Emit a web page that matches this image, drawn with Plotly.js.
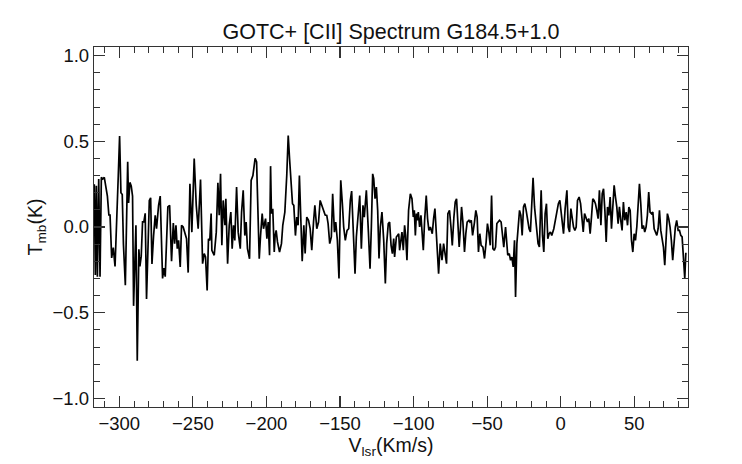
<!DOCTYPE html>
<html>
<head>
<meta charset="utf-8">
<script src="https://cdn.plot.ly/plotly-3.0.1.min.js"></script>
<style>html,body{margin:0;padding:0;background:#fff;}#chart{width:742px;height:464px;}</style>
</head>
<body>
<div id="chart"></div>
<script>
// Velocity (km/s) and main-beam temperature (K)
const velocity = [
-317.0,-316.3,-315.6,-314.9,-314.0,-313.1,-312.2,-311.3,-310.2,-309.2,
-308.1,-307.1,-306.3,-305.2,-304.1,-302.9,-301.5,-300.7,-299.8,-298.9,
-298.0,-297.2,-295.9,-294.3,-293.7,-292.8,-291.9,-291.0,-290.3,-288.7,
-287.8,-286.7,-286.0,-285.1,-284.2,-283.3,-282.4,-281.5,-280.6,-279.6,
-278.7,-277.8,-276.7,-275.6,-274.7,-273.3,-272.2,-270.6,-269.7,-268.8,
-267.0,-265.8,-264.5,-263.3,-262.4,-261.5,-260.6,-259.7,-258.6,-257.7,
-256.6,-255.2,-254.3,-253.2,-252.0,-250.7,-249.1,-247.7,-246.4,-244.8,
-243.4,-242.3,-241.4,-240.3,-239.4,-238.5,-237.6,
-237.1,-235.5,-234.1,-233.0,-232.1,-231.2,-230.3,-229.4,-228.2,-227.6,
-226.4,-225.3,-224.2,-223.3,-222.4,-221.5,-220.3,-219.2,-217.8,-216.9,
-215.8,-214.7,-213.8,-212.9,-211.5,-210.4,-209.2,-207.7,-206.7,-205.8,
-204.9,-204.0,-202.9,-202.0,-200.6,-199.7,-198.8,-197.9,-197.2,-196.6,
-195.7,-194.7,-194.1,-193.4,-192.5,-191.1,-189.8,-188.9,-187.5,-186.2,
-185.2,-184.3,-183.2,-182.3,-181.4,-180.3,-179.4,-178.5,-177.6,-176.6,
-175.7,-174.6,-173.7,-172.6,-171.4,-170.3,-169.2,-168.0,-167.1,-165.8,
-164.6,-163.5,-162.2,-161.3,-160.1,-159.0,
-158.1,-157.0,-155.9,-155.0,-153.8,-152.9,-151.8,-150.7,-149.5,-148.4,
-147.5,-146.4,-145.2,-144.1,-143.0,-142.1,-140.9,-139.8,-138.9,-137.8,
-136.6,-135.5,-134.4,-133.5,-132.1,-130.7,-129.6,-128.7,-127.8,-127.1,
-126.2,-125.3,-124.4,-123.5,-122.6,-121.5,-120.3,-119.2,-118.3,-117.2,
-116.3,-115.3,-114.4,-113.5,-112.9,-111.7,-110.8,-110.1,-109.5,-108.6,
-107.9,-107.0,-106.1,-105.4,-104.5,-103.4,-102.2,-101.1,-100.2,-99.5,
-98.8,-98.1,-97.5,-96.8,-95.9,-95.0,-94.3,-93.4,-92.5,-91.4,
-90.5,-89.6,-88.6,-87.3,-86.4,-85.5,-84.6,-83.9,-83.0,-81.9,
-80.7,-79.6,
-78.5,-77.6,-76.7,-75.6,-74.6,-73.7,-72.6,-71.7,-70.8,-69.9,
-69.0,-68.1,-67.4,-66.5,-65.4,-64.5,-63.6,-62.4,-61.7,-60.8,
-59.9,-58.6,-57.7,-56.8,-55.9,-55.0,-54.1,-52.9,-51.8,-50.7,
-49.8,-48.9,-47.9,-47.0,-46.1,-45.2,-44.3,-43.4,-42.5,-41.6,
-40.5,-39.6,-38.7,-37.5,-36.9,-36.0,-35.0,-34.1,-33.2,-32.3,
-31.4,-30.7,-29.8,-28.9,-28.0,-27.1,-26.2,-25.3,-24.4,-23.5,
-22.6,-21.5,-20.6,-19.6,-18.8,-17.8,-16.9,-16.3,-15.4,-14.5,
-13.3,-12.4,-11.5,-10.6,-9.7,-8.8,-7.9,-7.0,-6.1,-4.7,
-3.6,-2.5,-1.6,-0.6,
1.0,1.9,3.0,4.2,5.1,6.0,6.9,7.8,8.7,9.6,
10.5,11.4,12.5,13.5,14.4,15.3,16.2,17.1,18.2,19.1,
20.0,20.9,21.8,22.7,23.6,24.5,25.4,26.3,27.3,28.2,
29.1,30.0,30.9,31.8,32.7,33.6,34.5,35.4,36.3,37.2,
38.1,39.0,39.9,40.8,41.7,42.6,43.5,44.5,45.4,46.3,
47.2,48.1,49.0,49.9,50.8,51.7,52.6,53.5,54.4,55.3,
56.2,57.1,58.0,58.9,59.8,60.7,61.7,62.6,63.5,64.4,
65.3,66.2,67.1,68.0,68.9,69.8,70.7,71.6,72.5,73.4,
74.3,75.2,76.1,77.0,77.9,78.8,79.8,80.7,81.6,82.5,
83.4,84.3,85.0,85.6
];
const tmb = [
0.25,-0.28,0.24,-0.29,0.28,-0.29,0.29,0.28,0.29,0.24,
0.18,0.07,0.07,-0.18,-0.12,-0.23,0.06,0.30,0.53,0.20,
0.19,-0.10,-0.34,0.38,0.14,0.26,0.24,0.18,-0.46,0.01,
-0.78,-0.13,-0.23,-0.17,0.03,0.03,0.08,-0.42,-0.15,0.155,
0.17,-0.215,-0.05,0.068,-0.01,0.126,0.18,-0.30,-0.24,-0.29,
0.117,0.126,-0.20,0.023,-0.097,0.01,-0.126,-0.078,-0.233,0.01,
0.0,-0.05,-0.068,-0.266,0.252,-0.03,0.40,0.126,-0.01,0.277,
-0.214,-0.155,-0.175,-0.37,-0.068,-0.078,0.078,
-0.136,-0.165,-0.03,0.258,0.068,0.31,-0.107,0.155,0.01,0.165,
-0.214,0.01,0.087,-0.126,0.01,-0.078,0.233,-0.03,-0.126,0.087,
0.214,-0.05,0.029,-0.126,-0.185,0.272,0.30,0.40,0.38,0.146,
-0.185,-0.05,0.078,-0.01,0.049,-0.068,0.029,-0.165,0.355,0.078,
0.107,-0.146,-0.05,-0.02,-0.087,-0.146,-0.097,0.01,0.087,0.30,
0.534,0.40,0.26,0.136,0.126,-0.05,0.058,0.01,0.30,0.049,
-0.20,0.01,-0.155,0.058,0.039,-0.01,-0.136,0.029,0.126,-0.01,
0.029,0.155,0.126,0.097,0.07,0.068,
0.02,-0.097,-0.058,0.194,-0.03,0.029,-0.078,-0.30,0.272,0.136,
0.0,-0.078,-0.02,-0.01,0.155,0.21,0.0,-0.272,-0.058,0.068,
0.184,-0.126,0.126,0.058,0.214,-0.03,-0.243,0.0,0.31,0.282,
0.165,0.233,0.097,-0.184,0.0,0.087,-0.078,-0.33,-0.097,0.02,
0.029,-0.107,-0.155,-0.068,-0.175,-0.058,-0.049,-0.039,-0.136,-0.068,
-0.03,-0.136,0.01,-0.049,-0.194,0.097,0.194,0.165,0.058,0.097,
-0.049,0.078,0.039,0.087,0.0,0.068,-0.058,-0.136,0.039,0.184,
0.049,-0.02,0.0,-0.039,0.049,0.107,-0.03,-0.136,-0.272,-0.097,
-0.194,-0.097,
-0.175,-0.214,0.078,0.097,0.0,-0.107,0.058,0.146,0.165,0.039,
-0.117,0.0,0.117,0.029,-0.146,-0.039,0.029,0.039,0.029,0.039,
-0.049,0.029,0.097,0.058,-0.146,-0.039,-0.107,-0.117,-0.184,-0.087,
0.02,-0.029,-0.107,0.184,-0.126,-0.136,-0.117,0.02,0.029,0.039,
0.029,-0.029,-0.117,0.0,-0.078,-0.165,-0.155,-0.194,-0.175,-0.233,
-0.078,-0.408,-0.097,0.01,0.097,0.068,-0.049,0.117,0.136,0.097,
0.049,-0.01,-0.029,0.155,0.287,0.117,0.049,0.0,-0.097,-0.117,
0.214,-0.049,-0.146,0.078,0.136,-0.068,-0.039,-0.029,-0.049,-0.01,
0.049,0.097,0.136,0.155,
0.02,-0.039,0.107,0.214,0.0,-0.029,0.107,0.058,0.0,-0.02,
0.0,0.155,0.175,0.136,0.039,-0.029,0.078,0.058,0.029,0.049,
-0.039,0.058,0.165,0.155,0.136,0.097,0.049,0.214,0.01,0.194,
0.223,0.097,-0.087,0.117,0.068,0.175,-0.01,0.117,0.243,0.175,
0.117,0.02,0.117,0.039,-0.02,0.146,0.039,0.087,0.01,0.117,
0.097,-0.078,-0.146,-0.039,-0.078,0.0,0.136,0.252,0.136,-0.01,
0.01,-0.029,0.0,0.068,0.204,0.087,0.078,0.087,-0.01,-0.029,
-0.049,-0.01,0.097,-0.02,-0.078,-0.117,-0.223,-0.058,0.078,0.049,
0.0,-0.078,-0.194,-0.097,0.0,0.039,-0.02,-0.02,-0.049,-0.058,
-0.194,-0.30,-0.155,-0.155
];
const xTickVals = [-300,-250,-200,-150,-100,-50,0,50];
const xTickText = ['\u2212300','\u2212250','\u2212200','\u2212150','\u2212100','\u221250','0','50'];
const yTickVals = [-1.0,-0.5,0.0,0.5,1.0];
const yTickText = ['\u22121.0','\u22120.5','0.0','0.5','1.0'];

const FONT = 'Liberation Sans, Arial, Helvetica, sans-serif';
const INK = '#111111';

const trace = {
  x: velocity, y: tmb, type: 'scatter', mode: 'lines',
  line: {color: '#000000', width: 1.7},
  hoverinfo: 'x+y'
};

const axisCommon = {
  showline: true, linecolor: '#333333', linewidth: 1.2,
  mirror: 'ticks', ticks: 'inside', ticklen: 11, tickwidth: 1.1, tickcolor: '#333333',
  showgrid: false, zeroline: false,
  tickfont: {family: FONT, size: 18.5, color: INK}
};

const layout = {
  width: 742, height: 464,
  margin: {l: 94, r: 54, t: 47, b: 57},
  paper_bgcolor: '#ffffff', plot_bgcolor: '#ffffff',
  showlegend: false,
  title: {
    text: 'GOTC+ [CII] Spectrum G184.5+1.0',
    font: {family: FONT, size: 21.5, color: INK},
    x: 0.5, xref: 'paper', xanchor: 'center',
    y: 1 - 31 / 464, yref: 'container', yanchor: 'middle'
  },
  xaxis: Object.assign({}, axisCommon, {
    range: [-317.2, 86.5],
    tickmode: 'array', tickvals: xTickVals, ticktext: xTickText,
    minor: {ticks: 'inside', ticklen: 6, tickwidth: 1, tickcolor: '#333333', dtick: 10, tick0: 0, showgrid: false},
    title: {text: 'V<sub>lsr</sub>(Km/s)', font: {family: FONT, size: 19.5, color: INK}, standoff: 4}
  }),
  yaxis: Object.assign({}, axisCommon, {
    range: [-1.05, 1.05],
    tickmode: 'array', tickvals: yTickVals, ticktext: yTickText,
    minor: {ticks: 'inside', ticklen: 6, tickwidth: 1, tickcolor: '#333333', dtick: 0.1, tick0: 0, showgrid: false},
    title: {text: 'T<sub>mb</sub>(K)', font: {family: FONT, size: 19.5, color: INK}, standoff: 4}
  })
};

Plotly.newPlot('chart', [trace], layout, {displayModeBar: false, staticPlot: true});
</script>
</body>
</html>
